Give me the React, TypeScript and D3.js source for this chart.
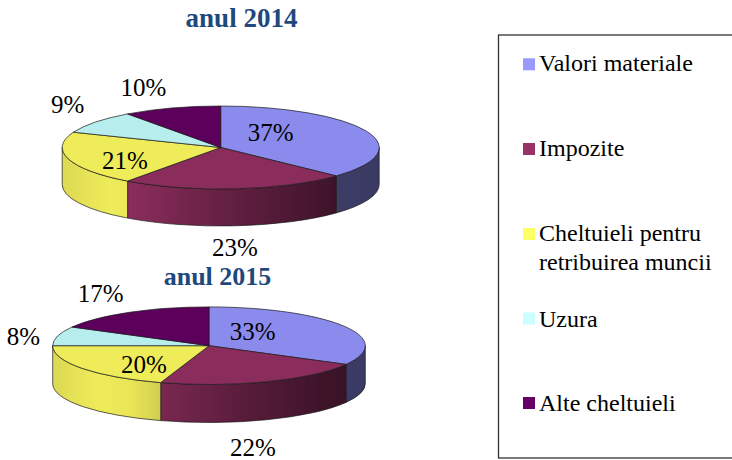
import React from "react";
import * as d3 from "d3";

const categories = ["Valori materiale", "Impozite", "Cheltuieli pentru|retribuirea muncii", "Uzura", "Alte cheltuieli"];
const values2014 = [37, 23, 21, 9, 10];
const values2015 = [33, 22, 20, 8, 17];
const topColors = ["#8b8bed", "#8b2d5c", "#efec5a", "#b8eded", "#5c005c"];
const legendColors = ["#9999ff", "#993366", "#ffff66", "#ccffff", "#660066"];

// horizontal shading of the pie wall: [position across the pie, brightness]
const wallShade: [number, number][] = [[0, 0.92], [0.15, 1], [0.25, 0.97], [0.35, 0.87], [0.6, 0.65], [0.88, 0.43], [1, 0.42]];

const pies = [
  { id: "p14", title: "anul 2014", values: values2014, cx: 220.7, cy: 147.5, rx: 158.5, ry: 41.5, depth: 37, titleX: 241.5, titleY: 27, titleSize: 27,
    labels: [[270.7, 132], [235, 247], [125, 160], [67.7, 104], [143.5, 87]] },
  { id: "p15", title: "anul 2015", values: values2015, cx: 209, cy: 345.7, rx: 156.3, ry: 38.8, depth: 38, titleX: 217.5, titleY: 285, titleSize: 26,
    labels: [[252.7, 331], [253, 447], [144, 364], [23.5, 336], [100.7, 293]] },
];
const legendBaselines = [[71], [155.5], [241], [270], [326.5], [411]];
const legendMarkerY = [58.3, 143, 228, 312.5, 397];

const Pie3D = ({ p }: { p: (typeof pies)[number] }) => {
  const arcs = d3.pie<number>().sort(null)(p.values);
  const px = (a: number) => p.cx + p.rx * Math.sin(a);
  const py = (a: number) => p.cy - p.ry * Math.cos(a);
  const front = (a: number) => Math.max(Math.PI / 2, Math.min(Math.PI * 1.5, a));
  return (
    <g>
      <defs>
        {topColors.map((c, i) => (
          <linearGradient key={i} id={`${p.id}-g${i}`} gradientUnits="userSpaceOnUse" x1={p.cx - p.rx} x2={p.cx + p.rx} y1={0} y2={0}>
            {wallShade.map(([o, k]) => {
              const col = d3.rgb(c);
              return <stop key={o} offset={o} stopColor={d3.rgb(col.r * k, col.g * k, col.b * k).formatHex()} />;
            })}
          </linearGradient>
        ))}
      </defs>
      {arcs.map((d, i) => {
        const a0 = front(d.startAngle);
        const a1 = front(d.endAngle);
        if (a1 - a0 < 1e-6) return null;
        const path = `M${px(a0)},${py(a0)}A${p.rx},${p.ry} 0 0 1 ${px(a1)},${py(a1)}L${px(a1)},${py(a1) + p.depth}A${p.rx},${p.ry} 0 0 0 ${px(a0)},${py(a0) + p.depth}Z`;
        return <path key={i} d={path} fill={`url(#${p.id}-g${i})`} stroke="#1a1a1a" strokeWidth={0.7} strokeLinejoin="round" />;
      })}
      {arcs.map((d, i) => {
        const large = d.endAngle - d.startAngle > Math.PI ? 1 : 0;
        const path = `M${p.cx},${p.cy}L${px(d.startAngle)},${py(d.startAngle)}A${p.rx},${p.ry} 0 ${large} 1 ${px(d.endAngle)},${py(d.endAngle)}Z`;
        return <path key={i} d={path} fill={topColors[i]} stroke="#1a1a1a" strokeWidth={0.7} strokeLinejoin="round" />;
      })}
      {p.values.map((v, i) => (
        <text key={i} x={p.labels[i][0]} y={p.labels[i][1]} textAnchor="middle" dominantBaseline="central" fontSize={25} fill="#000">
          {v}%
        </text>
      ))}
      <text x={p.titleX} y={p.titleY} textAnchor="middle" fontSize={p.titleSize} fontWeight="bold" fill="#1f497d">
        {p.title}
      </text>
    </g>
  );
};

export default function App() {
  let line = -1;
  return (
    <svg width={732} height={460} style={{ position: "absolute", left: 0, top: 0, fontFamily: "'Liberation Serif', serif" }}>
      <rect width={732} height={460} fill="#fff" />
      {pies.map((p) => (
        <Pie3D key={p.id} p={p} />
      ))}
      <rect x={498.5} y={35} width={240} height={423} fill="none" stroke="#333" strokeWidth={1.3} />
      {categories.map((c, i) => (
        <g key={c}>
          <rect x={523} y={legendMarkerY[i]} width={12} height={12} fill={legendColors[i]} />
          {c.split("|").map((t, j) => {
            line += 1;
            return (
              <text key={j} x={539} y={legendBaselines[line][0]} fontSize={24} fill="#000">
                {t}
              </text>
            );
          })}
        </g>
      ))}
    </svg>
  );
}
